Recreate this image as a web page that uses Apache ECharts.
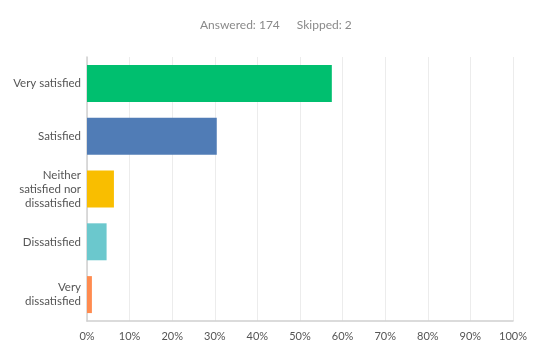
<!DOCTYPE html>
<html>
<head>
<meta charset="utf-8">
<script src="https://cdn.jsdelivr.net/npm/echarts@6/dist/echarts.min.js"></script>
<style>
    html, body {margin: 0; padding: 0; background: #fff;}
    #chart {width: 555px; height: 351px;}
</style>
</head>
<body>
<div id="chart"></div>
<script>
const categories = ['Very satisfied', 'Satisfied', 'Neither\nsatisfied nor\ndissatisfied', 'Dissatisfied', 'Very\ndissatisfied'];
const percents = [57.47, 30.46, 6.32, 4.60, 1.15];
const colors = ['#00BF6F', '#507CB6', '#F9BE00', '#6BC8CD', '#FF8B4F'];
const answered = 174;
const skipped = 2;

const chartDom = document.getElementById('chart');
const myChart = echarts.init(chartDom);

const seriesData = [];
for (let i = 0; i < percents.length; i++) {
    seriesData.push({
        value: percents[i],
        itemStyle: {color: colors[i]}
    })
}

const option = {
    animation: false,
    textStyle: {fontFamily: 'Lato'},
    title: {
        text: '{a|Answered: ' + answered + '}{gap|}{a|Skipped: ' + skipped + '}',
        left: 195,
        top: 11,
        textStyle: {
            fontWeight: 'normal',
            rich: {
                a: {fontSize: 12, color: '#8a8a8a', fontFamily: 'Lato', fontWeight: 'normal'},
                gap: {width: 17}
            }
        }
    },
    grid: {
        left: 87,
        right: 42,
        top: 57,
        bottom: 30
    },
    xAxis: {
        type: 'value',
        min: 0,
        max: 100,
        interval: 10,
        axisLine: {show: true, lineStyle: {color: '#d0d0d0', width: 1.5}},
        axisTick: {show: false},
        splitLine: {lineStyle: {color: '#ececec', width: 1}},
        axisLabel: {
            formatter: '{value}%',
            color: '#555',
            fontSize: 11,
            margin: 10
        }
    },
    yAxis: {
        type: 'category',
        inverse: true,
        data: categories,
        axisLine: {show: true, lineStyle: {color: '#d0d0d0', width: 1.5}},
        axisTick: {show: false},
        axisLabel: {
            color: '#555',
            fontSize: 11.5,
            lineHeight: 14,
            margin: 6,
            align: 'right'
        }
    },
    series: [
        {
            type: 'bar',
            data: seriesData,
            barCategoryGap: '30%'
        }
    ]
};

myChart.setOption(option);
</script>
</body>
</html>
